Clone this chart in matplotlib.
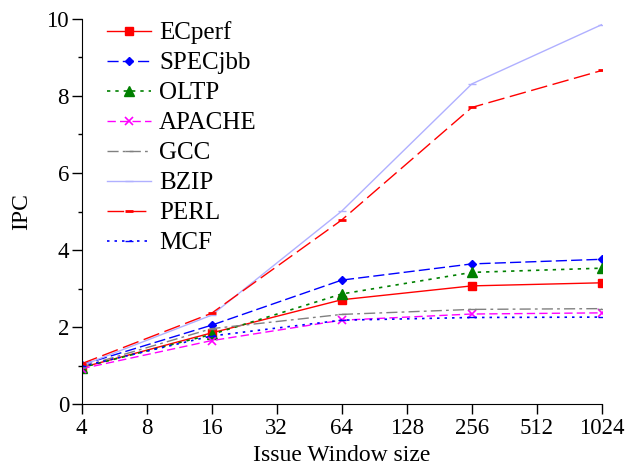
import matplotlib
matplotlib.use("Agg")
import matplotlib.pyplot as plt
import numpy as np

plt.rcParams['font.family'] = ['Liberation Serif', 'DejaVu Serif']

# issue window sizes
window = [4, 16, 64, 256, 1024]
xticks = [4, 8, 16, 32, 64, 128, 256, 512, 1024]

ecperf = [0.95, 1.85, 2.71, 3.07, 3.15]
specjbb = [1.02, 2.05, 3.22, 3.64, 3.76]
oltp = [0.95, 1.81, 2.86, 3.42, 3.53]
apache = [0.92, 1.65, 2.18, 2.34, 2.37]
gcc = [0.97, 1.96, 2.33, 2.46, 2.48]
bzip = [1.00, 2.31, 5.01, 8.31, 9.85]
perl = [1.05, 2.36, 4.78, 7.70, 8.66]
mcf = [0.98, 1.77, 2.18, 2.25, 2.26]

fig, ax = plt.subplots(figsize=(6.27, 4.70), dpi=100)
x = np.log2(window)

ax.plot(x, ecperf, color='red', linestyle='-', marker='s', markersize=6, lw=1, label='ECperf')
ax.plot(x, specjbb, color='blue', linestyle=(0, (8, 3)), marker='D', markersize=4.5, lw=1, label='SPECjbb')
ax.plot(x, oltp, color='green', linestyle=(0, (2, 3)), marker='^', markersize=6.5, lw=1.2, label='OLTP')
ax.plot(x, apache, color='magenta', linestyle=(0, (6, 3)), marker='x', markersize=6, mew=1.2, lw=1, label='APACHE')
ax.plot(x, gcc, color='gray', linestyle=(0, (8, 3, 2, 3)), marker='_', markersize=6, lw=1, label='GCC')
ax.plot(x, bzip, color='#b0b0ff', linestyle='-', marker='_', markersize=6, lw=1, label='BZIP')
ax.plot(x, perl, color='red', linestyle=(0, (12, 4)), marker='_', markersize=6, mew=2, lw=1, label='PERL')
ax.plot(x, mcf, color='blue', linestyle=(0, (1.5, 3)), marker='_', markersize=6, lw=1.2, label='MCF')

ax.set_xlim(2, 10)
ax.set_ylim(0, 10)
ax.set_xticks(np.log2(xticks))
ax.set_xticklabels([str(t) for t in xticks])
ax.set_yticks(range(0, 11, 2))
ax.set_yticks(range(1, 10, 2), minor=True)
ax.tick_params(axis='both', which='major', direction='out', labelsize=16.5, length=7, width=1)
ax.tick_params(axis='both', which='minor', direction='out', length=3, width=1)
ax.tick_params(axis='x', pad=3)
ax.tick_params(axis='y', pad=2)
ax.spines['top'].set_visible(False)
ax.spines['right'].set_visible(False)

ax.set_xlabel('Issue Window size', fontsize=17, labelpad=4)
ax.set_ylabel('IPC', fontsize=17, labelpad=10)

ax.legend(loc='upper left', frameon=False, fontsize=18, handlelength=1.76,
          handletextpad=0.32, labelspacing=0.3, borderaxespad=0.0,
          borderpad=0.1, bbox_to_anchor=(0.044, 1.0))

fig.subplots_adjust(left=0.13, right=0.96, bottom=0.14, top=0.96)
fig.savefig('out.png', dpi=100)
